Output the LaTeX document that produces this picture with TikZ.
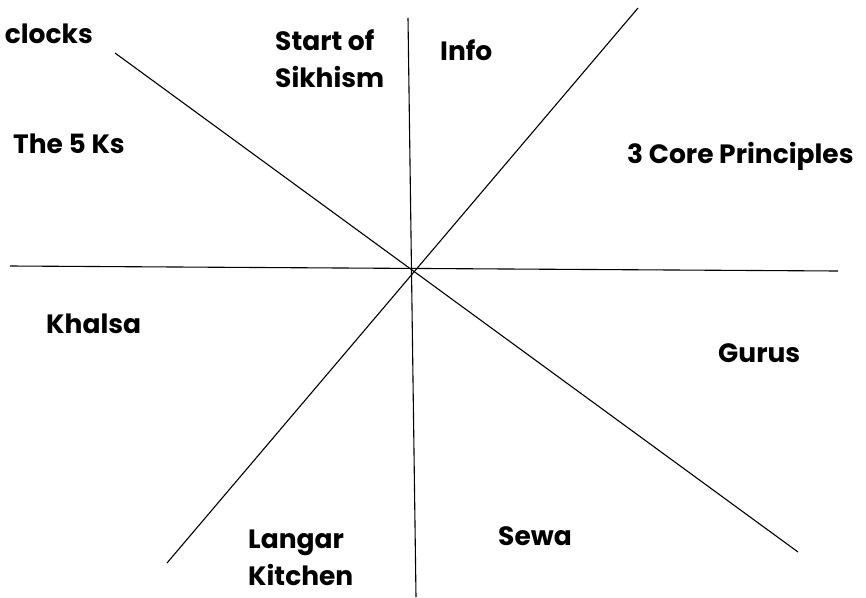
\documentclass[tikz,border=0pt]{standalone}
\usepackage{fontspec}
\setmainfont{Poppins}
\usetikzlibrary{positioning}

\begin{document}
\begin{tikzpicture}[x=1pt,y=-1pt,
  spoke/.style={line width=1.1pt,black},
  topic/.style={font=\fontsize{26.5}{37}\selectfont\bfseries,align=left,inner sep=0pt,anchor=base west}]
\useasboundingbox (0,0) rectangle (866,597);
% ends of the four spokes
\coordinate (vtop) at (408,18);
\coordinate (vbot) at (416,597);
\coordinate (hleft) at (10,266);
\coordinate (hright) at (838,271);
\coordinate (dtl) at (115,53);
\coordinate (dbr) at (798,552);
\coordinate (dtr) at (638,8);
\coordinate (dbl) at (167,563);
\draw[spoke] (vtop) -- (vbot);
\draw[spoke] (hleft) -- (hright);
\draw[spoke] (dtl) -- (dbr);
\draw[spoke] (dtr) -- (dbl);
% labels of the segments (base = last line)
\node[topic,anchor=base east] (clocks) at (93,43) {clocks};
\node[topic] (start) at (275,87) {Start of\\Sikhism};
\node[topic] (info) at (440,60) {Info};
\node[topic] (fiveks) at (13,153) {The 5 Ks};
\node[topic] (core) at (627,163) {3 Core Principles};
\node[topic] (khalsa) at (46,333) {Khalsa};
\node[topic] (gurus) at (718,362) {Gurus};
\node[topic] (sewa) at (498,545) {Sewa};
\node[topic] (langar) at (248,585) {Langar\\Kitchen};
\end{tikzpicture}
\end{document}
